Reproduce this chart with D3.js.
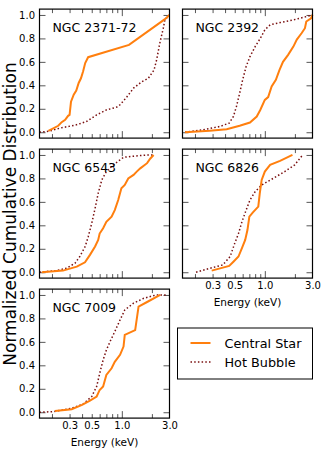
<!DOCTYPE html>
<html>
<head>
<meta charset="utf-8">
<script src="https://cdn.jsdelivr.net/npm/d3@7"></script>
<style>
  body { margin: 0; background: #fff; }
  svg { display: block; font-family: 'DejaVu Sans', sans-serif; }
</style>
</head>
<body>
<div id="chart"></div>
<script>
// cumulative distributions, [energy keV, fraction]

const star237172 = [[0.184, 0.012], [0.231, 0.055], [0.25, 0.086], [0.271, 0.106], [0.29, 0.14], [0.30, 0.148],
  [0.31, 0.26], [0.33, 0.32], [0.35, 0.355], [0.37, 0.42], [0.39, 0.46], [0.41, 0.52], [0.43, 0.59], [0.46, 0.64],
  [1.18, 0.745], [2.7, 0.964], [3.0, 1.0]]
const bubble237172 = [[0.15, 0.0], [0.19, 0.01], [0.24, 0.035], [0.35, 0.063], [0.44, 0.09], [0.56, 0.148],
  [0.70, 0.19], [0.89, 0.214], [0.96, 0.234], [1.12, 0.30], [1.31, 0.376], [1.58, 0.43], [1.84, 0.46],
  [2.1, 0.53], [2.23, 0.617], [2.4, 0.76], [2.6, 0.887], [2.7, 0.96], [3.0, 1.0]]

const star2392 = [[0.159, 0.0], [0.28, 0.012], [0.415, 0.026], [0.56, 0.055], [0.71, 0.083], [0.83, 0.134],
  [0.90, 0.19], [1.0, 0.276], [1.08, 0.30], [1.17, 0.39], [1.29, 0.447], [1.4, 0.53], [1.52, 0.60], [1.71, 0.66],
  [1.93, 0.73], [2.09, 0.79], [2.34, 0.846], [2.52, 0.887], [2.6, 0.944], [2.9, 0.972], [3.0, 1.0]]
const bubble2392 = [[0.159, 0.0], [0.24, 0.02], [0.355, 0.049], [0.44, 0.078], [0.485, 0.134], [0.52, 0.22],
  [0.56, 0.333], [0.60, 0.447], [0.65, 0.56], [0.71, 0.645], [0.80, 0.73], [0.90, 0.80], [1.0, 0.873],
  [1.13, 0.916], [1.42, 0.935], [1.93, 0.958], [2.6, 0.986], [3.0, 1.0]]

const star6543 = [[0.158, 0.0], [0.258, 0.014], [0.354, 0.048], [0.428, 0.085], [0.48, 0.148], [0.54, 0.22],
  [0.58, 0.276], [0.60, 0.33], [0.65, 0.375], [0.70, 0.43], [0.79, 0.474], [0.85, 0.53], [0.92, 0.616],
  [0.99, 0.716], [1.07, 0.744], [1.16, 0.80], [1.31, 0.83], [1.41, 0.858], [1.53, 0.886], [1.79, 0.93],
  [1.93, 0.97], [2.08, 1.0]]
const bubble6543 = [[0.15, 0.0], [0.22, 0.014], [0.28, 0.034], [0.34, 0.077], [0.38, 0.134], [0.43, 0.22],
  [0.46, 0.30], [0.50, 0.418], [0.54, 0.545], [0.58, 0.673], [0.63, 0.787], [0.70, 0.858], [0.82, 0.915],
  [1.04, 0.98], [1.31, 0.99], [1.79, 1.0], [2.08, 1.0]]

const star6826 = [[0.294, 0.014], [0.44, 0.054], [0.485, 0.09], [0.545, 0.134], [0.59, 0.205], [0.636, 0.276],
  [0.67, 0.36], [0.70, 0.474], [0.76, 0.51], [0.86, 0.56], [0.89, 0.673], [0.93, 0.787], [1.0, 0.858],
  [1.13, 0.915], [1.42, 0.95], [1.89, 1.0]]
const bubble6826 = [[0.205, 0.0], [0.283, 0.034], [0.38, 0.0625], [0.45, 0.134], [0.50, 0.247], [0.545, 0.33],
  [0.59, 0.43], [0.65, 0.53], [0.71, 0.616], [0.80, 0.687], [0.93, 0.744], [1.21, 0.80], [1.58, 0.858],
  [1.99, 0.915], [2.24, 0.97], [2.39, 1.0]]

const star7009 = [[0.214, 0.011], [0.315, 0.026], [0.40, 0.0625], [0.48, 0.10], [0.56, 0.134], [0.60, 0.19],
  [0.65, 0.22], [0.70, 0.318], [0.79, 0.375], [0.85, 0.43], [0.96, 0.49], [1.04, 0.56], [1.07, 0.66],
  [1.36, 0.70], [1.47, 0.90], [1.79, 0.94], [2.42, 1.0]]
const bubble7009 = [[0.15, 0.0], [0.21, 0.006], [0.315, 0.034], [0.41, 0.07], [0.50, 0.134], [0.56, 0.22],
  [0.60, 0.33], [0.65, 0.446], [0.70, 0.53], [0.76, 0.60], [0.85, 0.687], [0.96, 0.787], [1.07, 0.872],
  [1.31, 0.93], [1.64, 0.97], [2.2, 1.0], [2.8, 1.0]]

const panelNames = ['NGC 2371-72', 'NGC 2392', 'NGC 6543', 'NGC 6826', 'NGC 7009']
const starSeries = [star237172, star2392, star6543, star6826, star7009]
const bubbleSeries = [bubble237172, bubble2392, bubble6543, bubble6826, bubble7009]

const yTicks = [0, 0.2, 0.4, 0.6, 0.8, 1.0]
const xMinorTicks = [0.2, 0.3, 0.4, 0.5, 0.6, 0.7, 0.8, 0.9, 2]
const xMajorTicks = [1]
const xLabelTicks = [0.3, 0.5, 1.0, 3.0]
const legendLabels = ['Central Star', 'Hot Bubble']

const width = 325
const height = 455
const pw = 130 // panel width
const ph = 129 // panel height
const colX = [39.5, 182.5]
const rowY = [9.1, 149.1, 289.1]
const starColor = '#ff7f0e'
const bubbleColor = '#7a0f0f'

const svg = d3.select('#chart').append('svg')
  .attr('width', width).attr('height', height)

const x = d3.scaleLog().domain([0.15, 3.0]).range([0, pw])
const y = d3.scaleLinear().domain([-0.05, 1.05]).range([ph, 0])

const line = d3.line().x(d => x(d[0])).y(d => y(d[1]))

function tickStyle (g) {
  g.select('.domain').remove()
  g.selectAll('.tick line').attr('stroke', '#444').attr('stroke-width', 0.9)
  g.selectAll('.tick text').attr('fill', '#000').attr('font-family', 'DejaVu Sans')
}

panelNames.forEach((name, i) => {
  const col = i % 2
  const row = Math.floor(i / 2)
  const g = svg.append('g')
    .attr('transform', 'translate(' + colX[col] + ',' + rowY[row] + ')')

  const showX = i === 3 || i === 4 // bottom labels only on the lowest panel of each column
  const showY = col === 0

  // y ticks both sides, inward
  g.append('g')
    .call(d3.axisLeft(y).tickValues(yTicks).tickSize(-6).tickPadding(4.5)
      .tickFormat(showY ? d3.format('.1f') : ''))
    .attr('font-size', 10)
    .call(tickStyle)
  g.append('g').attr('transform', 'translate(' + pw + ',0)')
    .call(d3.axisRight(y).tickValues(yTicks).tickSize(-6).tickFormat(''))
    .call(tickStyle)

  // x ticks top and bottom
  ;[[xMinorTicks, 4], [xMajorTicks, 7]].forEach(([vals, len]) => {
    g.append('g').attr('transform', 'translate(0,' + ph + ')')
      .call(d3.axisBottom(x).tickValues(vals).tickSize(-len).tickFormat(''))
      .call(tickStyle)
    g.append('g')
      .call(d3.axisTop(x).tickValues(vals).tickSize(-len).tickFormat(''))
      .call(tickStyle)
  })

  if (showX) {
    g.append('g').attr('transform', 'translate(0,' + ph + ')')
      .call(d3.axisBottom(x).tickValues(xLabelTicks).tickSize(0).tickPadding(4)
        .tickFormat(d3.format('.1f')))
      .attr('font-size', 10)
      .call(tickStyle)
    g.append('text')
      .attr('x', pw / 2).attr('y', ph + 28.3)
      .attr('text-anchor', 'middle')
      .attr('font-size', 10.5)
      .text('Energy (keV)')
  }

  g.append('path')
    .datum(bubbleSeries[i])
    .attr('d', line)
    .attr('fill', 'none')
    .attr('stroke', bubbleColor)
    .attr('stroke-width', 1.5)
    .attr('stroke-dasharray', '1.5,2.2')

  g.append('path')
    .datum(starSeries[i])
    .attr('d', line)
    .attr('fill', 'none')
    .attr('stroke', starColor)
    .attr('stroke-width', 2)

  g.append('rect')
    .attr('width', pw).attr('height', ph)
    .attr('fill', 'none')
    .attr('stroke', '#000')
    .attr('stroke-width', 1.2)

  g.append('text')
    .attr('x', 13).attr('y', 23)
    .attr('font-size', 12.5)
    .text(name)
})

// shared y label
svg.append('text')
  .attr('transform', 'translate(16,214) rotate(-90)')
  .attr('text-anchor', 'middle')
  .attr('font-size', 17)
  .text('Normalized Cumulative Distribution')

// legend
const lg = svg.append('g').attr('transform', 'translate(177.5,328)')
lg.append('rect')
  .attr('width', 135).attr('height', 51)
  .attr('fill', '#fff').attr('stroke', '#000').attr('stroke-width', 1)
legendLabels.forEach((label, i) => {
  const ly = 15 + i * 19
  lg.append('line')
    .attr('x1', 13).attr('x2', 33).attr('y1', ly).attr('y2', ly)
    .attr('stroke', i === 0 ? starColor : bubbleColor)
    .attr('stroke-width', i === 0 ? 2 : 1.5)
    .attr('stroke-dasharray', i === 0 ? null : '1.5,2.2')
  lg.append('text')
    .attr('x', 47).attr('y', ly + 4.5)
    .attr('font-size', 12.8)
    .text(label)
})
</script>
</body>
</html>
